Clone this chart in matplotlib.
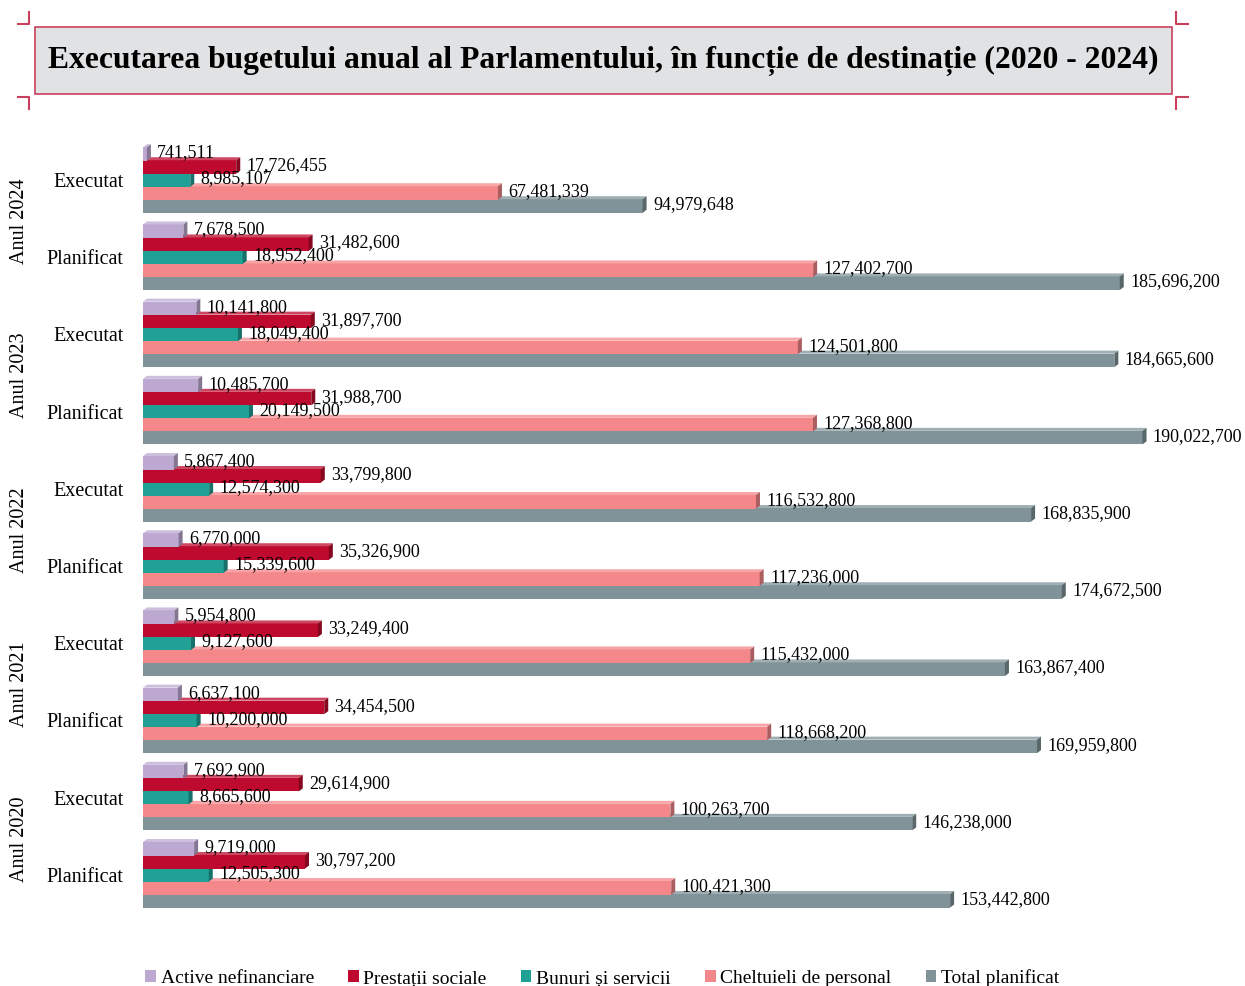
import matplotlib
matplotlib.use('Agg')
import matplotlib.pyplot as plt
import matplotlib.transforms as mtransforms
from matplotlib.patches import Polygon, Rectangle, Patch
from matplotlib.lines import Line2D
from matplotlib.colors import to_rgb

plt.rcParams['font.family'] = ['Liberation Serif', 'DejaVu Serif']

# rows from top to bottom
years = ['Anul 2024', 'Anul 2023', 'Anul 2022', 'Anul 2021', 'Anul 2020']
kinds = ['Executat', 'Planificat']
series = ['Active nefinanciare', 'Prestații sociale', 'Bunuri și servicii',
          'Cheltuieli de personal', 'Total planificat']
colors = ['#bca8d1', '#be0a2e', '#21a096', '#f48789', '#7f9398']

active = [741511, 7678500, 10141800, 10485700, 5867400,
          6770000, 5954800, 6637100, 7692900, 9719000]
prestatii = [17726455, 31482600, 31897700, 31988700, 33799800,
             35326900, 33249400, 34454500, 29614900, 30797200]
bunuri = [8985107, 18952400, 18049400, 20149500, 12574300,
          15339600, 9127600, 10200000, 8665600, 12505300]
personal = [67481339, 127402700, 124501800, 127368800, 116532800,
            117236000, 115432000, 118668200, 100263700, 100421300]
total = [94979648, 185696200, 184665600, 190022700, 168835900,
         174672500, 163867400, 169959800, 146238000, 153442800]
values = [active, prestatii, bunuri, personal, total]

W, H = 1245, 986
fig = plt.figure(figsize=(W / 100, H / 100), dpi=100)

px_per_unit = 5.26          # pixels per million
ax_l, ax_r, ax_t, ax_b = 143, 1235, 140, 915
ax = fig.add_axes([ax_l / W, 1 - ax_b / H, (ax_r - ax_l) / W, (ax_b - ax_t) / H])

bar_px = 13.0
pitch = 77.2 / bar_px
top0 = 154
ax.set_xlim(0, (ax_r - ax_l) / px_per_unit * 1e6)
ax.set_ylim(-(ax_b - top0) / bar_px, (top0 - ax_t) / bar_px)

dx = 4 / px_per_unit * 1e6
dy = 3 / bar_px
hb = 1.04


def shade(c, f):
    r, g, b = to_rgb(c)
    if f < 1:
        return (r * f, g * f, b * f)
    return (r + (1 - r) * (f - 1), g + (1 - g) * (f - 1), b + (1 - b) * (f - 1))


nrows = len(years) * len(kinds)
for k in range(4, -1, -1):
    for row in range(nrows):
        w = values[k][row]
        yc = -(row * pitch + k)
        top, bot = yc + hb / 2, yc - hb / 2
        z = 10 - k
        ax.barh(yc, w, height=hb, color=colors[k], edgecolor='none', zorder=z)
        ax.add_patch(Polygon([(0, top), (dx, top + dy), (w + dx, top + dy), (w, top)],
                             closed=True, facecolor=shade(colors[k], 1.25),
                             edgecolor='none', zorder=z))
        ax.add_patch(Polygon([(w, bot), (w + dx, bot + dy), (w + dx, top + dy), (w, top)],
                             closed=True, facecolor=shade(colors[k], 0.7),
                             edgecolor='none', zorder=z))
        ax.text(w + dx + 1.2e6, yc + 0.1, f'{w:,}', ha='left', va='center',
                fontsize=13, zorder=20)

centers = [-(row * pitch + 2) for row in range(nrows)]
ax.set_yticks(centers)
ax.set_yticklabels(kinds * len(years), fontsize=14.5)
ax.tick_params(axis='y', length=0, pad=14)
ax.set_xticks([])
for s in ax.spines.values():
    s.set_visible(False)

trans = mtransforms.blended_transform_factory(fig.transFigure, ax.transData)
for i, yr in enumerate(years):
    yc = -(2 * i * pitch + 2 + pitch / 2)
    ax.text(19 / W, yc - 0.2, yr, transform=trans, rotation=90, ha='center',
            va='center', fontsize=14.5)

# title box
fig.patches.append(Rectangle((35 / W, 1 - 94 / H), (1172 - 35) / W, 67 / H,
                             transform=fig.transFigure, facecolor='#e1e2e4',
                             edgecolor='#c8405e', lw=1.2))
mark = '#c8405e'
for xs, ys in [((18, 29, 29), (24, 24, 12)), ((18, 29, 29), (97, 97, 109)),
               ((1188, 1176, 1176), (24, 24, 12)), ((1188, 1176, 1176), (97, 97, 109))]:
    fig.lines.append(Line2D([x / W for x in xs], [1 - y / H for y in ys],
                            transform=fig.transFigure, color=mark, lw=1.5))

title = fig.text(603.5 / W, 1 - 61 / H,
                 'Executarea bugetului anual al Parlamentului, în funcție de destinație (2020 - 2024)',
                 ha='center', va='center', fontsize=20, fontweight='bold')
fig.canvas.draw()
tw = title.get_window_extent().width
title.set_fontsize(20 * 1110 / tw)

handles = [Patch(facecolor=c, edgecolor='none') for c in colors]
fig.legend(handles, series, loc='center left', bbox_to_anchor=(145 / W, 1 - 978 / H),
           ncol=5, frameon=False, fontsize=14, handlelength=0.55, handleheight=0.55,
           handletextpad=0.25, columnspacing=1.75, borderpad=0, borderaxespad=0)

fig.savefig('out.png', dpi=100)
